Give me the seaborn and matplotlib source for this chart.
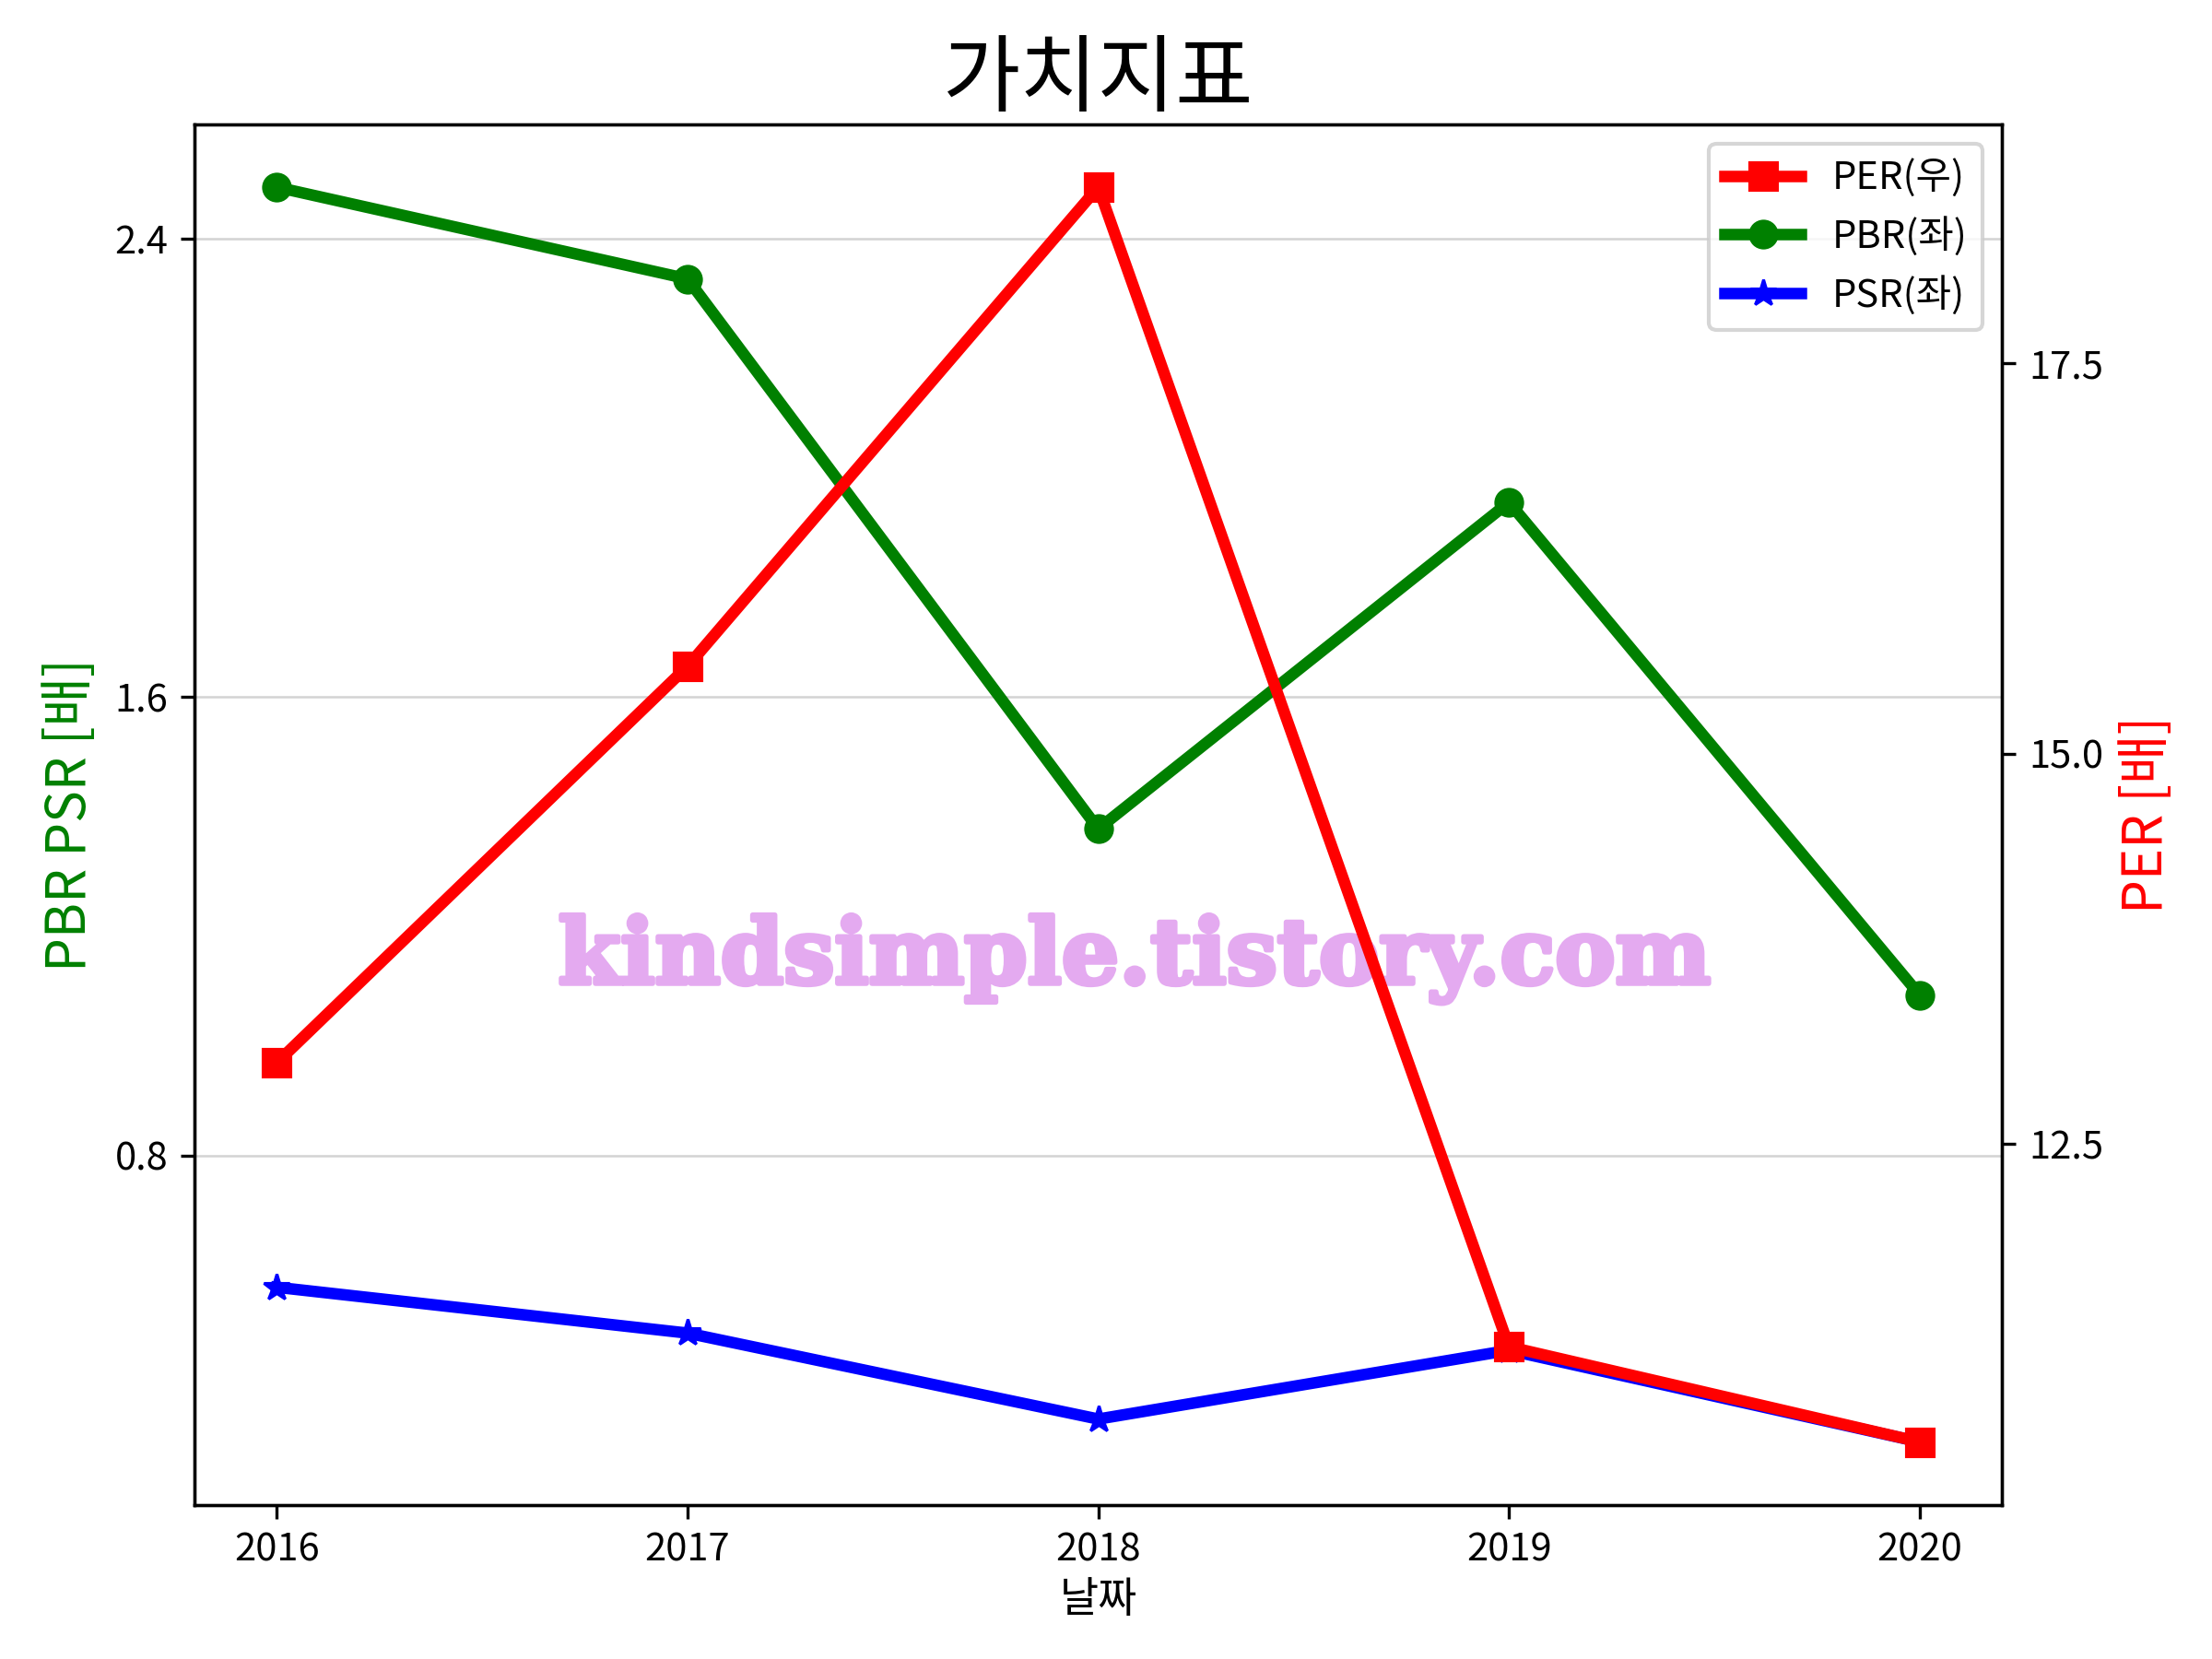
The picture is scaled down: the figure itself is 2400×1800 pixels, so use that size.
import numpy as np
import pandas as pd
import seaborn as sns
import matplotlib.pyplot as plt
import matplotlib.patheffects as pe
from matplotlib.ticker import MultipleLocator

plt.rcParams['font.family'] = ['Noto Sans CJK KR', 'DejaVu Sans']
plt.rcParams['axes.unicode_minus'] = False

# values
years = [2016, 2017, 2018, 2019, 2020]
per = [13.02, 15.56, 18.63, 11.20, 10.59]
pbr = [2.49, 2.33, 1.37, 1.94, 1.08]
psr = [0.57, 0.49, 0.34, 0.46, 0.30]

df = pd.DataFrame({"날짜": years, "PER": per, "PBR": pbr, "PSR": psr})

fig, ax1 = plt.subplots(figsize=(8, 6), dpi=300)
ax2 = ax1.twinx()

sns.lineplot(data=df, x="날짜", y="PBR", ax=ax1, color="green", marker="o",
             markersize=7, markeredgecolor="green", linewidth=3, label="PBR(좌)", legend=False)
sns.lineplot(data=df, x="날짜", y="PSR", ax=ax1, color="blue", marker="*",
             markersize=7, markeredgecolor="blue", linewidth=3, label="PSR(좌)", legend=False)
sns.lineplot(data=df, x="날짜", y="PER", ax=ax2, color="red", marker="s",
             markersize=7, markeredgecolor="red", linewidth=3, label="PER(우)", legend=False)

ax1.yaxis.set_major_locator(MultipleLocator(0.8))
ax2.yaxis.set_major_locator(MultipleLocator(2.5))
ax1.set_xticks(years)
ax1.grid(axis="y", color="#d3d3d3", linewidth=0.6)

ax1.set_ylabel("PBR PSR [배]", color="green", fontsize=14)
ax2.set_ylabel("PER [배]", color="red", fontsize=14)
ax1.set_xlabel("날짜", fontsize=11, labelpad=2)
ax1.set_title("가치지표", fontsize=22, pad=4)

h1, l1 = ax1.get_legend_handles_labels()
h2, l2 = ax2.get_legend_handles_labels()
ax2.legend(h2 + h1, l2 + l1, loc="upper right", fontsize=10)

ax1.text(0.52, 0.395, "kindsimple.tistory.com", transform=ax1.transAxes,
         ha="center", va="center", fontsize=23.5, fontweight="bold",
         family="DejaVu Serif", color="#E4AAF0",
         path_effects=[pe.withStroke(linewidth=1.3, foreground="#E4AAF0")])

fig.subplots_adjust(left=0.088, right=0.905, top=0.925, bottom=0.093)
fig.savefig("out.png", dpi=300)
